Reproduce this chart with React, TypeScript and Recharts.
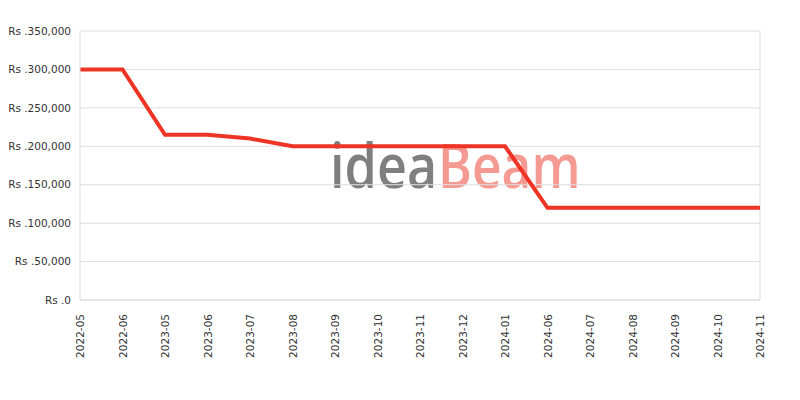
import { LineChart, Line, XAxis, YAxis, CartesianGrid, ReferenceLine } from 'recharts';

const months = [
  '2022-05', '2022-06', '2023-05', '2023-06', '2023-07', '2023-08', '2023-09',
  '2023-10', '2023-11', '2023-12', '2024-01', '2024-06', '2024-07', '2024-08',
  '2024-09', '2024-10', '2024-11',
];

const prices = [
  300000, 300000, 215000, 215000, 210000, 200000, 200000,
  200000, 200000, 200000, 200000, 120000, 120000, 120000,
  120000, 120000, 120000,
];

const yTicks = [0, 50000, 100000, 150000, 200000, 250000, 300000, 350000];

const chartData = months.map((month, i) => ({ month, price: prices[i] }));

const FONT = '"DejaVu Sans", sans-serif';

const formatRs = (v: number) => `Rs .${v.toLocaleString('en-US')}`;

function MonthTick({ x, y, payload }: any) {
  return (
    <g transform={`translate(${x},${y + 6})`}>
      <text
        x={0}
        y={0}
        dy={4}
        textAnchor="end"
        transform="rotate(-90)"
        fontSize={10.5}
        fontFamily={FONT}
        fill="#333"
      >
        {payload.value}
      </text>
    </g>
  );
}

// faint logo text sitting behind the plot
function Watermark() {
  const wm = { fontSize: 62, fontWeight: 600, fontFamily: '"Open Sans", sans-serif' };
  return (
    <svg
      width={800}
      height={400}
      style={{ position: 'absolute', left: 0, top: 0, pointerEvents: 'none' }}
    >
      <text transform="translate(330,188) scale(0.84,1)" {...wm} fill="#7f7f7f">
        idea
      </text>
      <text transform="translate(438,188) scale(0.83,1)" {...wm} fill="#f59a92">
        Beam
      </text>
    </svg>
  );
}

export default function App() {
  return (
    <div style={{ position: 'absolute', left: 0, top: 0, width: 800, height: 400, background: '#fff' }}>
      <Watermark />
      <div style={{ position: 'absolute', left: 0, top: 0 }}>
        <LineChart
          width={800}
          height={400}
          data={chartData}
          margin={{ top: 31, right: 40, left: 0, bottom: 0 }}
        >
          <CartesianGrid vertical={false} stroke="#dddddd" />
          <ReferenceLine x="2024-11" stroke="#dddddd" />
          <XAxis
            dataKey="month"
            interval={0}
            height={100}
            tick={<MonthTick />}
            tickLine={false}
            axisLine={{ stroke: '#dddddd' }}
          />
          <YAxis
            width={80}
            domain={[0, 350000]}
            ticks={yTicks}
            tickFormatter={formatRs}
            tickLine={false}
            axisLine={{ stroke: '#dddddd' }}
            tick={{ fontSize: 10.5, fontFamily: FONT, fill: '#333' }}
            tickMargin={3}
          />
          <Line
            type="linear"
            dataKey="price"
            stroke="#ee3424"
            strokeWidth={4}
            dot={false}
            isAnimationActive={false}
          />
        </LineChart>
      </div>
    </div>
  );
}
